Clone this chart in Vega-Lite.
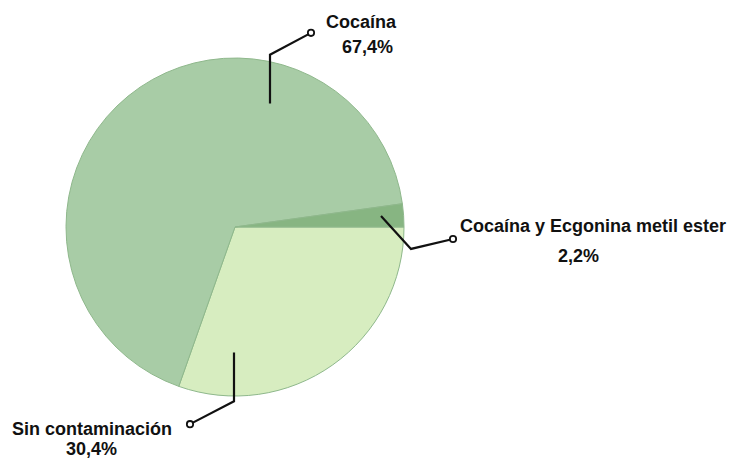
{
  "$schema": "https://vega.github.io/schema/vega-lite/v6.json",
  "width": 731,
  "height": 459,
  "padding": 0,
  "autosize": {"type": "fit", "contains": "padding"},
  "background": "white",
  "config": {
    "view": {"stroke": null},
    "locale": {
      "number": {"decimal": ",", "thousands": ".", "grouping": [3], "currency": ["", " €"]}
    },
    "text": {"font": "Liberation Sans", "fontWeight": "bold", "fontSize": 18, "color": "#111111"}
  },
  "datasets": {
    "sectores": [
      {"categoria": "Sin contaminación", "fraccion": 0.304, "orden": 1},
      {"categoria": "Cocaína", "fraccion": 0.674, "orden": 2},
      {"categoria": "Cocaína y Ecgonina metil ester", "fraccion": 0.022, "orden": 3}
    ],
    "guias": [
      {"categoria": "Cocaína", "paso": 1, "x": 270, "y": 104},
      {"categoria": "Cocaína", "paso": 2, "x": 270, "y": 55},
      {"categoria": "Cocaína", "paso": 3, "x": 311, "y": 33},
      {"categoria": "Cocaína y Ecgonina metil ester", "paso": 1, "x": 381, "y": 217},
      {"categoria": "Cocaína y Ecgonina metil ester", "paso": 2, "x": 411, "y": 250},
      {"categoria": "Cocaína y Ecgonina metil ester", "paso": 3, "x": 453, "y": 240},
      {"categoria": "Sin contaminación", "paso": 1, "x": 234, "y": 354},
      {"categoria": "Sin contaminación", "paso": 2, "x": 234, "y": 403},
      {"categoria": "Sin contaminación", "paso": 3, "x": 190, "y": 426}
    ],
    "anclas": [
      {"categoria": "Cocaína", "nx": 326, "ny": 28, "vx": 342, "vy": 53},
      {"categoria": "Cocaína y Ecgonina metil ester", "nx": 460, "ny": 233, "vx": 558, "vy": 263},
      {"categoria": "Sin contaminación", "nx": 12, "ny": 437, "vx": 66, "vy": 457}
    ]
  },
  "layer": [
    {
      "data": {"name": "sectores"},
      "mark": {"type": "arc", "outerRadius": 169, "stroke": "#8fb88c", "strokeWidth": 1},
      "encoding": {
        "x": {"datum": 235, "type": "quantitative", "scale": {"domain": [0, 731], "nice": false, "zero": false}, "axis": null},
        "y": {"datum": 228, "type": "quantitative", "scale": {"domain": [0, 459], "nice": false, "zero": false, "reverse": true}, "axis": null},
        "theta": {"field": "fraccion", "type": "quantitative", "stack": true, "scale": {"range": [1.5708, 7.8540]}},
        "order": {"field": "orden", "type": "quantitative"},
        "color": {
          "field": "categoria",
          "type": "nominal",
          "scale": {
            "domain": ["Sin contaminación", "Cocaína", "Cocaína y Ecgonina metil ester"],
            "range": ["#d7edc0", "#a8cca6", "#87b582"]
          },
          "legend": null
        }
      }
    },
    {
      "data": {"name": "guias"},
      "mark": {"type": "line", "color": "#111111", "strokeWidth": 2.2, "strokeJoin": "miter"},
      "encoding": {
        "x": {"field": "x", "type": "quantitative"},
        "y": {"field": "y", "type": "quantitative"},
        "detail": {"field": "categoria"},
        "order": {"field": "paso", "type": "quantitative"}
      }
    },
    {
      "data": {"name": "guias"},
      "transform": [{"filter": "datum.paso === 3"}],
      "mark": {"type": "point", "shape": "circle", "size": 40, "filled": true, "fill": "white", "stroke": "#111111", "strokeWidth": 1.8, "opacity": 1},
      "encoding": {
        "x": {"field": "x", "type": "quantitative"},
        "y": {"field": "y", "type": "quantitative"}
      }
    },
    {
      "data": {"name": "sectores"},
      "transform": [{"lookup": "categoria", "from": {"data": {"name": "anclas"}, "key": "categoria", "fields": ["nx", "ny"]}}],
      "mark": {"type": "text", "align": "left", "baseline": "alphabetic"},
      "encoding": {
        "x": {"field": "nx", "type": "quantitative"},
        "y": {"field": "ny", "type": "quantitative"},
        "text": {"field": "categoria"}
      }
    },
    {
      "data": {"name": "sectores"},
      "transform": [{"lookup": "categoria", "from": {"data": {"name": "anclas"}, "key": "categoria", "fields": ["vx", "vy"]}}],
      "mark": {"type": "text", "align": "left", "baseline": "alphabetic"},
      "encoding": {
        "x": {"field": "vx", "type": "quantitative"},
        "y": {"field": "vy", "type": "quantitative"},
        "text": {"field": "fraccion", "type": "quantitative", "format": ".1%"}
      }
    }
  ]
}
